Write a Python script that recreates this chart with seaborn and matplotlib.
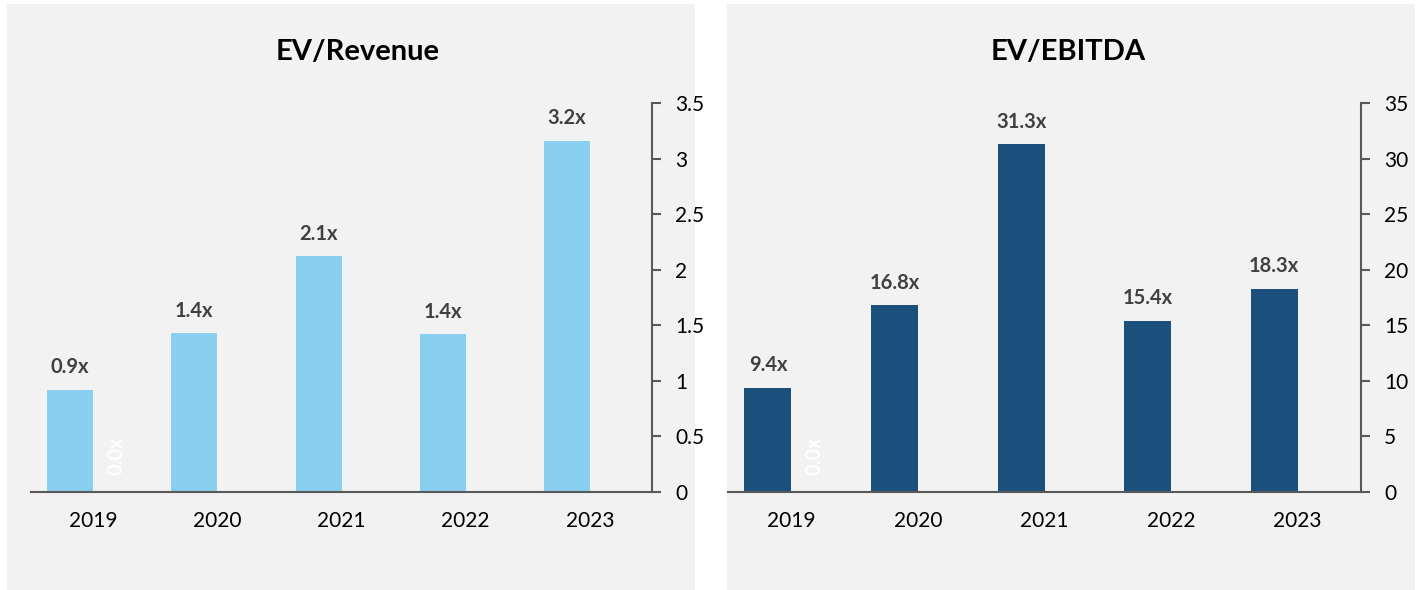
import numpy as np
import pandas as pd
import seaborn as sns
import matplotlib.pyplot as plt
from matplotlib.patches import Rectangle
from matplotlib.ticker import FuncFormatter, FixedLocator

# 数据
years = ['2019', '2020', '2021', '2022', '2023']
ev_revenue = [0.92, 1.43, 2.12, 1.42, 3.16]
ev_ebitda = [9.4, 16.8, 31.3, 15.4, 18.3]
# 第二个系列只有 2019 有值（0），其余为空
hidden_revenue = [0.0, np.nan, np.nan, np.nan, np.nan]
hidden_ebitda = [0.0, np.nan, np.nan, np.nan, np.nan]

sns.set_style('white')
plt.rcParams['font.family'] = ['Lato', 'DejaVu Sans']

W, H = 1424, 590
fig = plt.figure(figsize=(W / 100, H / 100), dpi=100)
fig.patch.set_facecolor('white')

# 灰色背景面板
for x0, x1 in [(7, 695), (727, 1415)]:
    fig.add_artist(Rectangle((x0 / W, 0), (x1 - x0) / W, (H - 4) / H,
                             transform=fig.transFigure, facecolor='#F2F2F2',
                             edgecolor='none', zorder=0))

axis_color = '#595959'


def draw_panel(ax, values, hidden, color, ymax, step, title, title_x):
    df = pd.DataFrame({
        'year': years * 2,
        'value': list(values) + list(hidden),
        'series': ['main'] * len(years) + ['hidden'] * len(years),
    })
    sns.barplot(data=df, x='year', y='value', hue='series', order=years,
                hue_order=['main', 'hidden'], palette=[color, color],
                width=0.74, saturation=1, errorbar=None, legend=False,
                linewidth=0, ax=ax)
    ax.set_facecolor('none')
    ax.set_xlim(-0.5, len(years) - 0.5)
    ax.set_ylim(0, ymax)
    ax.set_xlabel('')
    ax.set_ylabel('')

    # 坐标轴样式
    for s in ['top', 'left']:
        ax.spines[s].set_visible(False)
    for s in ['bottom', 'right']:
        ax.spines[s].set_visible(True)
        ax.spines[s].set_color(axis_color)
        ax.spines[s].set_linewidth(1.5)

    ax.yaxis.tick_right()
    ax.set_yticks(np.arange(0, ymax + step / 2, step))
    ax.yaxis.set_major_formatter(FuncFormatter(lambda v, p: f'{v:g}'))
    ax.tick_params(axis='y', direction='out', length=6.5, width=1.5,
                   color=axis_color, pad=10, labelsize=15, labelcolor='black')

    ax.xaxis.set_minor_locator(FixedLocator(np.arange(-0.5, len(years), 1)))
    ax.tick_params(axis='x', which='major', length=0, pad=14, labelsize=15,
                   labelcolor='black')
    ax.tick_params(axis='x', which='minor', direction='out', length=5,
                   width=1.5, color=axis_color)

    # 数据标签
    main_c, hidden_c = ax.containers[0], ax.containers[1]
    ax.bar_label(main_c, labels=[f'{v:.1f}x' for v in values], padding=9,
                 fontsize=14.5, fontweight='bold', color='#404040')
    shown = [v for v in hidden if not np.isnan(v)]
    ax.bar_label(hidden_c, labels=[f'{v:.1f}x' for v in shown], padding=12,
                 rotation=90, fontsize=14.5, fontweight='bold', color='white')

    fig.text(title_x / W, 1 - 52 / H, title, ha='center', va='center',
             fontsize=21, fontweight='bold', color='black')


y0 = 1 - 492 / H
hgt = (492 - 103) / H
ax1 = fig.add_axes([31 / W, y0, (652 - 31) / W, hgt])
ax2 = fig.add_axes([728 / W, y0, (1361 - 728) / W, hgt])

draw_panel(ax1, ev_revenue, hidden_revenue, '#89CFF0', 3.5, 0.5,
           'EV/Revenue', 358)
draw_panel(ax2, ev_ebitda, hidden_ebitda, '#1B4F7C', 35, 5,
           'EV/EBITDA', 1068)

fig.savefig('out.png', dpi=100, facecolor='white')
